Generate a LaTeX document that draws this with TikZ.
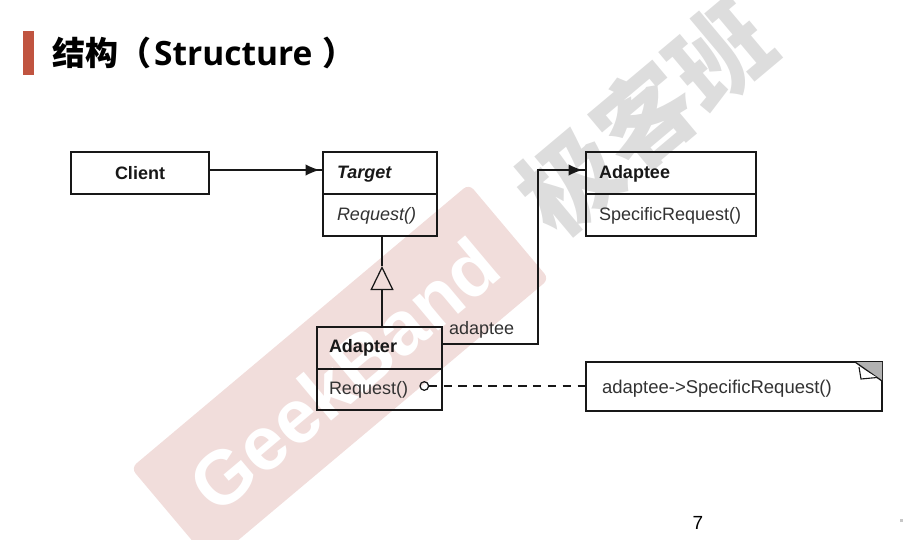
\documentclass[tikz,border=0pt]{standalone}
\usepackage{fontspec}
\setmainfont{Liberation Sans}
\newfontfamily\cjk{Noto Sans CJK SC}
\newfontfamily\titlelat{Open Sans}
\usetikzlibrary{arrows.meta}
\definecolor{band}{RGB}{241,221,219}
\definecolor{wmgrey}{RGB}{221,221,221}
\definecolor{barred}{RGB}{192,84,64}
\definecolor{ink}{RGB}{24,24,24}
\definecolor{txt}{RGB}{50,50,50}
\definecolor{eargrey}{RGB}{178,178,178}
\tikzset{
  x=1pt,y=-1pt,
  line/.style={draw=ink,line width=1.25pt},
  classbox/.style 2 args={line,anchor=north west,outer sep=0pt,inner ysep=0pt,
    inner xsep=#2,text width=#1,align=left,text=txt,font=\fontsize{18}{20}\selectfont},
  classhead/.style={font=\fontsize{18}{20}\selectfont\bfseries,text=ink},
  lowered/.style={text height=15pt,text depth=3.8pt},
  assoc/.style={line,postaction={draw=ink,line width=1.25pt,shorten >=3.5pt,-{Latex[length=14pt,width=11.5pt]}}},
  label/.style={text=txt,font=\fontsize{18}{20}\selectfont,inner sep=0pt},
}
\begin{document}
\begin{tikzpicture}
\useasboundingbox (0,0) rectangle (903,539);
\begin{scope}
\clip (0,0) rectangle (903,539);
\fill[band,rounded corners=7pt] (131,468) -- (469,184) -- (549,279) -- (211,563) -- cycle;
\node[rotate=40,text=white,font=\fontsize{76}{80}\selectfont\bfseries,inner sep=0pt] (wmen) at (344,375) {GeekBand};
\node[rotate=40,text=wmgrey,font=\fontsize{98}{104}\cjk\bfseries,inner sep=0pt] (wmcn) at (645,117) {极客班};
\end{scope}
% title
\fill[barred] (22.5,31) rectangle (33.5,75);
\node[anchor=base west,inner sep=0pt,text=black] (title) at (52,65)
  {\fontsize{33}{36}\selectfont{\cjk\bfseries 结构（}\hspace{3pt}{\fontsize{33.5}{36}\titlelat\bfseries Structure}\hspace{10pt}{\cjk\bfseries ）}};
% classes
\node[classbox={138pt}{0pt},minimum height=42pt,align=center,classhead] (client) at (71,152) {Client};
\node[classbox={86pt}{14pt},minimum height=42pt,classhead,lowered] (targetH) at (323,152) {\itshape Target};
\node[classbox={86pt}{14pt},minimum height=42pt,lowered] (targetB) at (323,194) {\itshape Request()};
\node[classbox={144pt}{13pt},minimum height=42pt,classhead,lowered] (adapteeH) at (586,152) {Adaptee};
\node[classbox={144pt}{13pt},minimum height=42pt,lowered] (adapteeB) at (586,194) {SpecificRequest()};
\node[classbox={101pt}{12pt},minimum height=42pt,classhead] (adapterH) at (317,327) {Adapter};
\node[classbox={101pt}{12pt},minimum height=41pt] (adapterB) at (317,369) {Request()};
\node[classbox={264pt}{16pt},minimum height=49pt,font=\fontsize{18.5}{20}\selectfont,text height=17pt,text depth=3.8pt] (note) at (586,362) {adaptee->SpecificRequest()};
% dog ear
\fill[eargrey] (855,362) -- (882,362) -- (882,381) -- cycle;
\draw[line,line join=miter] (855,362) -- (882,381);
\filldraw[fill=white,draw=ink,line width=1.1pt] (859,367) -- (861,379) -- (877,377.5);
% connectors
\coordinate (cOut) at ([yshift=3pt]client.east);
\coordinate (tIn) at ([yshift=3pt]targetH.west);
\draw[assoc] (cOut) -- (tIn);
\coordinate (tri) at (382,266);
\draw[line] (tri |- targetB.south) -- (tri);
\draw[line,-{Triangle[open,length=24pt,width=23pt]}] (tri |- adapterH.north) -- (tri);
\coordinate (aOut) at ([yshift=4pt]adapterH.east);
\coordinate (aIn) at ([yshift=3pt]adapteeH.west);
\coordinate (bendX) at (538,0);
\draw[assoc] (aOut) -| (bendX |- aIn) -- (aIn);
\node[label,anchor=base west] (role) at (449,334) {adaptee};
\node[draw=ink,line width=1.25pt,circle,minimum size=8.6pt,inner sep=0pt,outer sep=0pt] (dot) at (424.3,386) {};
\draw[line,dash pattern=on 8.5pt off 6.4pt] (dot.east) -- (note.west |- dot);
% page number
\node[text=black,font=\fontsize{19}{21}\selectfont,inner sep=0pt] (page) at (698,523) {7};
\fill[black!22] (900,518.5) rectangle (903,521.5);
\end{tikzpicture}
\end{document}
